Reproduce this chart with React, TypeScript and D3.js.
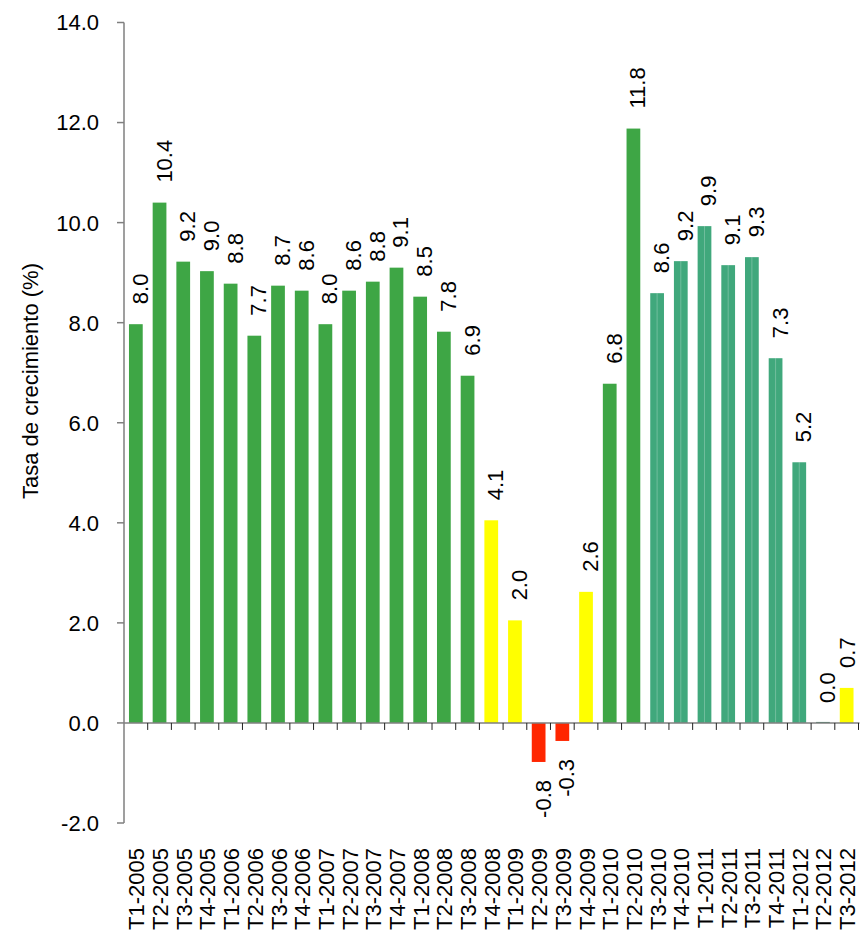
import React from "react";
import * as d3 from "d3";

const categories = [
  "T1-2005", "T2-2005", "T3-2005", "T4-2005",
  "T1-2006", "T2-2006", "T3-2006", "T4-2006",
  "T1-2007", "T2-2007", "T3-2007", "T4-2007",
  "T1-2008", "T2-2008", "T3-2008", "T4-2008",
  "T1-2009", "T2-2009", "T3-2009", "T4-2009",
  "T1-2010", "T2-2010", "T3-2010", "T4-2010",
  "T1-2011", "T2-2011", "T3-2011", "T4-2011",
  "T1-2012", "T2-2012", "T3-2012",
];

const values = [
  7.97, 10.4, 9.22, 9.03,
  8.78, 7.74, 8.74, 8.64,
  7.97, 8.64, 8.82, 9.1,
  8.52, 7.82, 6.94, 4.05,
  2.05, -0.78, -0.36, 2.62,
  6.78, 11.88, 8.59, 9.23,
  9.93, 9.15, 9.31, 7.29,
  5.21, 0.0, 0.7,
];

const labels = [
  "8.0", "10.4", "9.2", "9.0",
  "8.8", "7.7", "8.7", "8.6",
  "8.0", "8.6", "8.8", "9.1",
  "8.5", "7.8", "6.9", "4.1",
  "2.0", "-0.8", "-0.3", "2.6",
  "6.8", "11.8", "8.6", "9.2",
  "9.9", "9.1", "9.3", "7.3",
  "5.2", "0.0", "0.7",
];

// colour group per bar: g = green, y = yellow, r = red, t = teal
const groups = [
  "g", "g", "g", "g",
  "g", "g", "g", "g",
  "g", "g", "g", "g",
  "g", "g", "g", "y",
  "y", "r", "r", "y",
  "g", "g", "t", "t",
  "t", "t", "t", "t",
  "t", "t", "y",
];

const yTicks = [-2, 0, 2, 4, 6, 8, 10, 12, 14];
const yTitle = "Tasa de crecimiento (%)";

const COLORS: Record<string, string> = {
  g: "#3ea645",
  y: "#ffff00",
  r: "#ff2600",
  t: "#40a87c",
};

const FONT = "'Liberation Sans', Arial, Helvetica, sans-serif";

export default function App() {
  const W = 861;
  const H = 932;
  const x0 = 124;
  const x1 = 858.5;
  const x = d3
    .scaleBand<string>()
    .domain(categories)
    .range([x0, x1])
    .paddingInner(0.42)
    .paddingOuter(0.21);
  const y = d3.scaleLinear().domain([-2, 14]).range([823, 22.5]);
  const step = (x1 - x0) / categories.length;
  const bw = x.bandwidth();
  const fmt = (t: number) => t.toFixed(1);

  return (
    <svg
      width={W}
      height={H}
      style={{ position: "absolute", left: 0, top: 0, background: "#fff" }}
      fontFamily={FONT}
    >
      {/* bars */}
      {categories.map((c, i) => {
        const v = values[i];
        const bx = x(c)!;
        const top = y(Math.max(v, 0));
        const bot = y(Math.min(v, 0));
        const h = Math.max(bot - top, v === 0 ? 1 : 0);
        const col = COLORS[groups[i]];
        return (
          <g key={c}>
            <rect
              x={bx}
              y={v === 0 ? y(0) - 1 : top}
              width={bw}
              height={h}
              fill={v === 0 ? "#2e7d5c" : col}
            />
            {groups[i] === "t" && v !== 0 && (
              <line
                x1={bx + bw / 2}
                x2={bx + bw / 2}
                y1={top}
                y2={bot}
                stroke="#ffffff"
                strokeOpacity={0.25}
                strokeWidth={1}
              />
            )}
          </g>
        );
      })}

      {/* x axis */}
      <line x1={x0} x2={x1 + 1} y1={y(0)} y2={y(0)} stroke="#7f7f7f" strokeWidth={1.5} />
      {categories.map((c, i) => {
        const tx = x0 + step * (i + 1);
        return (
          <line key={"t" + c} x1={tx} x2={tx} y1={y(0)} y2={y(0) + 7} stroke="#222" strokeWidth={1} />
        );
      })}

      {/* y axis */}
      <line x1={x0} x2={x0} y1={y(14)} y2={y(-2)} stroke="#7f7f7f" strokeWidth={1.5} />
      {yTicks.map((t) => (
        <g key={"y" + t}>
          <line x1={x0 - 7} x2={x0} y1={y(t)} y2={y(t)} stroke="#7f7f7f" strokeWidth={1.5} />
          <text
            x={99}
            y={y(t)}
            dy="0.36em"
            textAnchor="end"
            fontSize={22}
            fill="#000"
          >
            {fmt(t)}
          </text>
        </g>
      ))}

      {/* y title */}
      <text
        transform={`translate(38, 381) rotate(-90)`}
        textAnchor="middle"
        fontSize={22}
        fill="#000"
      >
        {yTitle}
      </text>

      {/* category labels */}
      {categories.map((c) => {
        const cx = x(c)! + bw / 2;
        return (
          <text
            key={"l" + c}
            transform={`translate(${cx + 8.5}, 848) rotate(-90)`}
            textAnchor="end"
            fontSize={22}
            fill="#000"
          >
            {c}
          </text>
        );
      })}

      {/* value labels */}
      {categories.map((c, i) => {
        const v = values[i];
        const cx = x(c)! + bw / 2;
        const neg = v < 0;
        const py = neg ? y(v) + 18 : y(v) - 20;
        return (
          <text
            key={"v" + c}
            transform={`translate(${Math.min(cx + 12, W - 6)}, ${py}) rotate(-90)`}
            textAnchor={neg ? "end" : "start"}
            fontSize={22}
            fill="#000"
          >
            {labels[i]}
          </text>
        );
      })}
    </svg>
  );
}
